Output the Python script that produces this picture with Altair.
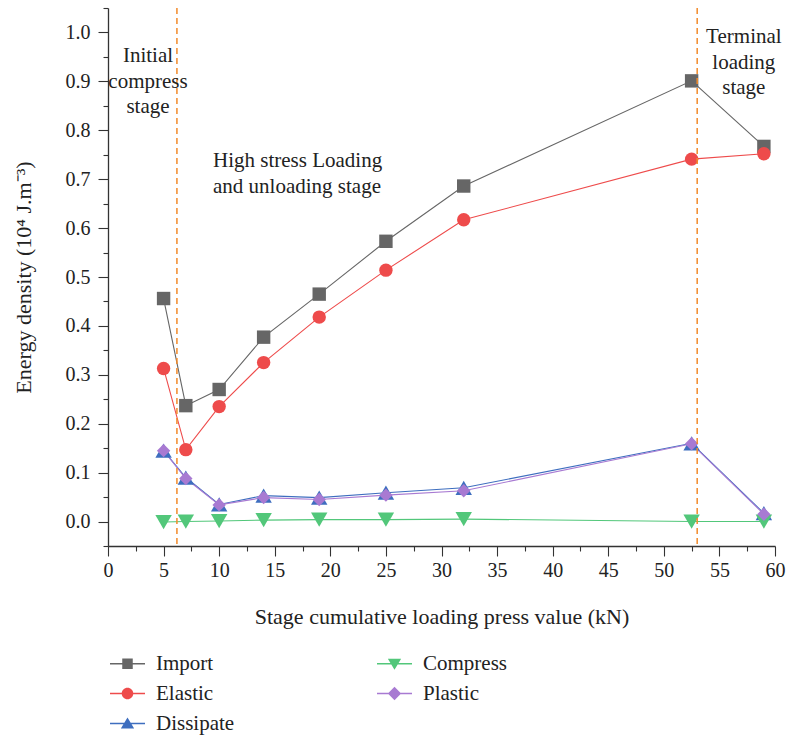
import altair as alt
import pandas as pd

# ---- data ----
x_vals = [5, 7, 10, 14, 19, 25, 32, 52.5, 59]
import_vals = [0.456, 0.237, 0.270, 0.377, 0.465, 0.573, 0.686, 0.901, 0.767]
elastic_vals = [0.313, 0.147, 0.235, 0.325, 0.418, 0.514, 0.617, 0.741, 0.752]
dissipate_vals = [0.145, 0.090, 0.035, 0.053, 0.049, 0.059, 0.069, 0.160, 0.017]
compress_vals = [-0.001, 0.000, 0.001, 0.003, 0.004, 0.004, 0.005, 0.000, 0.000]
plastic_vals = [0.145, 0.088, 0.034, 0.049, 0.045, 0.054, 0.063, 0.159, 0.015]

series_names = ["Import", "Elastic", "Dissipate", "Compress", "Plastic"]
series_colors = ["#666666", "#EE4B4B", "#3E6EBF", "#52C77A", "#A87AD2"]
series_shapes = ["square", "circle", "triangle-up", "triangle-down", "diamond"]

stage_bounds = [6.2, 53.0]

notes_text = ["Initial\ncompress\nstage", "High stress Loading\nand unloading stage", "Terminal\nloading\nstage"]
notes_x = [3.6, 9.45, 57.2]
notes_y = [0.951, 0.738, 0.990]
notes_align = ["center", "left", "center"]

x_ticks = [i * 2.5 for i in range(25)]
y_ticks = [round(-0.05 + i * 0.05, 2) for i in range(23)]

FONT = "Liberation Serif"

# ---- build tables ----
all_vals = [import_vals, elastic_vals, dissipate_vals, compress_vals, plastic_vals]
rows = []
for name, vals in zip(series_names, all_vals):
    for xv, yv in zip(x_vals, vals):
        rows.append({"x": xv, "y": yv, "series": name})
df = pd.DataFrame(rows)

legend_order = series_names
cmap = dict(zip(series_names, series_colors))
smap = dict(zip(series_names, series_shapes))

# legend glyphs: horizontal line through the marker
LINE = "M-1,-0.04 L1,-0.04 L1,0.04 L-1,0.04 Z "
legend_paths = {
    "square": LINE + "M-0.3,-0.3 L0.3,-0.3 L0.3,0.3 L-0.3,0.3 Z",
    "circle": LINE + "M-0.33,0 A0.33,0.33 0 1,1 0.33,0 A0.33,0.33 0 1,1 -0.33,0 Z",
    "triangle-up": LINE + "M0,-0.34 L0.38,0.28 L-0.38,0.28 Z",
    "triangle-down": LINE + "M-0.38,-0.28 L0.38,-0.28 L0,0.34 Z",
    "diamond": LINE + "M0,-0.38 L0.38,0 L0,0.38 L-0.38,0 Z",
}

color_scale = alt.Scale(domain=legend_order, range=[cmap[n] for n in legend_order])
shape_scale = alt.Scale(domain=legend_order, range=[smap[n] for n in legend_order])
legend_shape_scale = alt.Scale(domain=legend_order, range=[legend_paths[smap[n]] for n in legend_order])

x_axis = alt.Axis(
    values=x_ticks,
    labelOverlap=False,
    labelFlush=False,
    labelPadding=4,
    labelExpr="datum.value % 5 === 0 ? datum.label : ''",
    tickSize={"condition": {"test": "datum.value % 5 === 0", "value": 10}, "value": 5},
    title="Stage cumulative loading press value (kN)",
    titlePadding=26,
)
y_axis = alt.Axis(
    values=y_ticks,
    format=".1f",
    labelOverlap=False,
    labelFlush=False,
    labelPadding=8,
    labelExpr="(datum.value > -0.01 && round(datum.value*100) % 10 === 0) ? datum.label : ''",
    tickSize={"condition": {"test": "round(datum.value*100) % 10 === 0", "value": 10}, "value": 5},
    title="Energy density (10\u2074 J.m\u207b\u00b3)",
    titlePadding=30,
)
x_scale = alt.Scale(domain=[0, 60], nice=False)
y_scale = alt.Scale(domain=[-0.05, 1.05], nice=False, zero=False)

x_enc = alt.X("x:Q", scale=x_scale, axis=x_axis)
y_enc = alt.Y("y:Q", scale=y_scale, axis=y_axis)

base = alt.Chart(df)

lines = base.mark_line(strokeWidth=1.1).encode(
    x=x_enc, y=y_enc,
    color=alt.Color("series:N", scale=color_scale, legend=None),
)

is_triangle = "datum.series === 'Dissipate' || datum.series === 'Compress'"

points_main = base.transform_filter("!(" + is_triangle + ")").mark_point(filled=True, opacity=1, size=180).encode(
    x=x_enc, y=y_enc,
    color=alt.Color("series:N", scale=color_scale, legend=None),
    shape=alt.Shape("series:N", scale=shape_scale, legend=None),
)

points_tri = base.transform_filter(is_triangle).mark_point(filled=True, opacity=1, size=270).encode(
    x=x_enc, y=y_enc,
    color=alt.Color("series:N", scale=color_scale, legend=None),
    shape=alt.Shape("series:N", scale=shape_scale, legend=None),
)

legend_layer = base.mark_point(filled=True, size=1225, opacity=0).encode(
    x=x_enc, y=y_enc,
    color=alt.Color("series:N", scale=color_scale, legend=None),
    shape=alt.Shape(
        "series:N",
        scale=legend_shape_scale,
        legend=alt.Legend(
            title=None,
            orient="none",
            legendX=2,
            legendY=638,
            columns=2,
            columnPadding=142,
            rowPadding=2,
            symbolSize=1225,
            symbolOpacity=1,
            symbolStrokeWidth=0,
            symbolFillColor={"expr": "scale('color', datum.value)"},
            labelFont=FONT,
            labelFontSize=21,
            labelColor="#222222",
            labelOffset=11,
        ),
    ),
)

bounds_df = pd.DataFrame({"xb": stage_bounds})
rules = alt.Chart(bounds_df).mark_rule(color="#F28A2A", strokeDash=[6, 4], strokeWidth=1.5).encode(
    x=alt.X("xb:Q", scale=x_scale, axis=x_axis)
)

notes_df = pd.DataFrame({"x": notes_x, "y": notes_y, "text": notes_text, "align": notes_align})
notes_center = alt.Chart(notes_df[notes_df["align"] == "center"]).mark_text(
    font=FONT, fontSize=21, lineBreak="\n", lineHeight=25.5, align="center", baseline="middle", color="#222222"
).encode(x=x_enc, y=y_enc, text="text:N")
notes_left = alt.Chart(notes_df[notes_df["align"] == "left"]).mark_text(
    font=FONT, fontSize=21, lineBreak="\n", lineHeight=26, align="left", baseline="middle", color="#222222"
).encode(x=x_enc, y=y_enc, text="text:N")

chart = alt.layer(lines, points_tri, points_main, legend_layer, rules, notes_center, notes_left).resolve_scale(
    shape="independent"
).properties(
    width=667, height=538,
    autosize=alt.AutoSizeParams(type="none"),
    padding={"left": 108, "top": 8, "right": 12, "bottom": 193},
).configure_view(stroke=None).configure_axis(
    grid=False,
    domainColor="#333333",
    tickColor="#333333",
    domainWidth=1.3,
    tickWidth=1.1,
    labelFont=FONT,
    labelFontSize=20,
    labelColor="#222222",
    titleFont=FONT,
    titleFontSize=22,
    titleFontWeight="normal",
    titleColor="#222222",
)

chart.save("out.html", embed_options={"renderer": "svg", "actions": False})
